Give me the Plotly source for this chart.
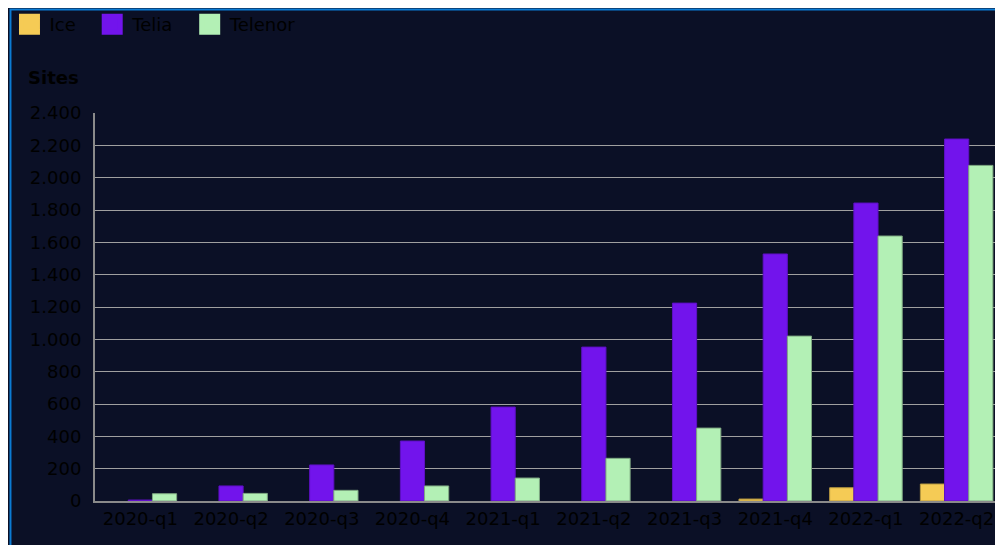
import plotly.graph_objects as go

categories = ["2020-q1", "2020-q2", "2020-q3", "2020-q4", "2021-q1",
              "2021-q2", "2021-q3", "2021-q4", "2022-q1", "2022-q2"]
ice = [0, 0, 0, 0, 0, 0, 0, 12, 82, 105]
telia = [6, 93, 223, 371, 581, 952, 1224, 1528, 1843, 2239]
telenor = [45, 47, 66, 93, 142, 264, 451, 1020, 1639, 2076]
y_ticks = [0, 200, 400, 600, 800, 1000, 1200, 1400, 1600, 1800, 2000, 2200, 2400]
y_tick_labels = ["0", "200", "400", "600", "800", "1.000", "1.200", "1.400",
                 "1.600", "1.800", "2.000", "2.200", "2.400"]

series = [("Ice", ice, "#f5cb55", "#b89a40"),
          ("Telia", telia, "#7214ec", "#5e10c4"),
          ("Telenor", telenor, "#b3f0b5", "#7fa882")]

FONT = "DejaVu Sans"
BG = "#0b1026"
PAD = "\u00a0\u00a0"  # extra spacing after legend labels

fig = go.Figure()
for name, vals, col, edge in series:
    fig.add_trace(go.Bar(x=categories, y=vals, name=name, showlegend=False,
                         marker=dict(color=col,
                                     line=dict(color=edge,
                                               width=[0 if v == 0 else 1 for v in vals]))))
for name, vals, col, edge in series:
    fig.add_trace(go.Scatter(x=[None], y=[None], mode="markers", name=name + PAD,
                             marker=dict(symbol="square", size=16, color=col,
                                         line=dict(color=col, width=5))))

fig.update_layout(
    width=995, height=537,
    margin=dict(l=87, r=1, t=105, b=44, autoexpand=False),
    paper_bgcolor=BG, plot_bgcolor=BG,
    font=dict(family=FONT, size=18, color="#000000"),
    barmode="group", bargap=0.2, bargroupgap=0,
    showlegend=True,
    legend=dict(orientation="h", x=-0.0943, xanchor="left", y=1.2758, yanchor="top",
                font=dict(family=FONT, size=18, color="#000000"),
                bgcolor="rgba(0,0,0,0)", itemsizing="trace", tracegroupgap=0),
    xaxis=dict(type="category", showgrid=False, showline=True, linecolor="#8a8a8a",
               linewidth=2, ticks="", tickfont=dict(size=18, color="#000000")),
    yaxis=dict(range=[0, 2400], tickvals=y_ticks, ticktext=y_tick_labels,
               showgrid=True, gridcolor="#a0a0a0", gridwidth=1,
               showline=True, linecolor="#8a8a8a", linewidth=2, zeroline=False,
               ticks="", ticklabelstandoff=8, tickfont=dict(size=18, color="#000000")),
    annotations=[dict(text="<b>Sites</b>", xref="paper", yref="paper",
                      x=-0.0761, y=1.0598, xanchor="left", yanchor="bottom",
                      showarrow=False, font=dict(family=FONT, size=18, color="#000000"))],
    shapes=[dict(type="rect", xref="paper", yref="paper",
                 x0=-0.0932, x1=1.2, y0=-0.6, y1=1.2668,
                 line=dict(color="#0b7bd4", width=2), layer="below")],
)

fig.write_html("out.html")
